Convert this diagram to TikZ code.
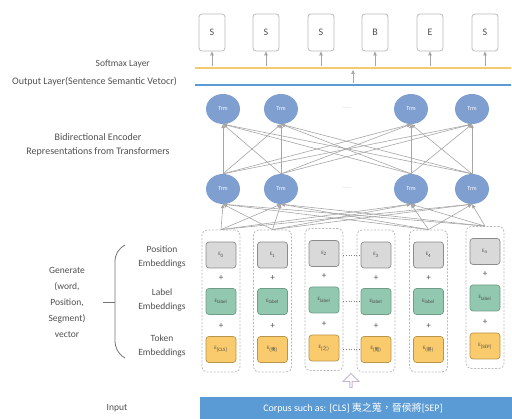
\documentclass[tikz,border=0pt]{standalone}
\usepackage{fontspec}
\setmainfont{Carlito}
\newfontfamily\cjk{Noto Sans CJK TC}
\usetikzlibrary{arrows.meta,shapes.arrows,shapes.geometric}
\definecolor{txt}{HTML}{505050}
\definecolor{ln}{HTML}{A6A6A6}
\definecolor{trm}{HTML}{7F9FD0}
\definecolor{gfill}{HTML}{D9D9D9}
\definecolor{gdraw}{HTML}{8C8C8C}
\definecolor{grfill}{HTML}{92C8B0}
\definecolor{grdraw}{HTML}{6E9E88}
\definecolor{yfill}{HTML}{F9CB6C}
\definecolor{ydraw}{HTML}{B89548}
\definecolor{bline}{HTML}{5B9BD5}
\definecolor{yline}{HTML}{F5C96E}
\definecolor{hollow}{HTML}{C9B4D8}
\tikzset{
  lbl/.style={text=txt, font=\fontsize{9.5}{11}\selectfont, inner sep=0pt},
  outbox/.style={draw=gray!55, rounded corners=3pt, minimum width=26pt, minimum height=37pt, line width=0.8pt, text=txt, font=\fontsize{10}{12}\selectfont, inner sep=0pt},
  trmnode/.style={ellipse, fill=trm, minimum width=34pt, minimum height=30pt, inner sep=0pt, text=white, font=\fontsize{6}{7}\selectfont},
  arr/.style={draw=ln, line width=0.6pt, -{Triangle[length=4pt,width=3.5pt]}},
  frame/.style={draw=gray!55, dash pattern=on 2pt off 1.5pt, rounded corners=5pt, line width=0.8pt, minimum width=38pt, minimum height=142pt, inner sep=0pt},
  ebox/.style={rounded corners=3pt, minimum width=30pt, minimum height=26pt, line width=0.7pt, inner sep=0pt, text=txt, font=\fontsize{5}{6}\selectfont},
  gbox/.style={ebox, fill=gfill, draw=gdraw},
  lbox/.style={ebox, fill=grfill, draw=grdraw},
  kbox/.style={ebox, fill=yfill, draw=ydraw},
  plus/.style={text=txt, font=\fontsize{9}{10}\selectfont, inner sep=0pt},
  dotc/.style={draw=gray, dotted, line width=0.6pt}
}
\begin{document}
\begin{tikzpicture}[x=1pt,y=-1pt]
\useasboundingbox (0,0) rectangle (512,419);
% output boxes
\foreach \i/\x/\s in {1/212/S,2/266/S,3/321/S,4/375/B,5/430/E,6/485/S}
  \node[outbox] (o\i) at (\x,32.5) {\s};
% layer lines
\coordinate (yl) at (195,68);
\coordinate (yr) at (511,68);
\coordinate (bl) at (195,85);
\coordinate (br) at (511,85);
\draw[yline, line width=1.3pt] (yl) -- (yr);
\draw[bline, line width=2.5pt] (bl) -- (br);
\foreach \i in {1,...,6}
  \draw[arr] (o\i.south |- yl) ++(0,-1.5) coordinate (a\i) (a\i) -- (o\i.south);
\coordinate (m0) at (353,83.5);
\coordinate (m1) at (353,70);
\draw[arr] (m0) -- (m1);
\node[lbl, anchor=east, font=\fontsize{9.5}{11}\selectfont] (sm) at (150,64) {Softmax Layer};
\node[lbl, anchor=east, font=\fontsize{10}{12}\selectfont] (ol) at (177,82) {Output Layer(Sentence Semantic Vetocr)};
\node[lbl, align=center, font=\fontsize{10}{12}\selectfont] (bert) at (98,145) {Bidirectional Encoder\\[2pt]Representations from Transformers};
% Trm nodes
\foreach \i/\x in {1/223,2/281,3/411,4/472} {
  \node[trmnode] (t\i) at (\x,109) {Trm};
  \node[trmnode] (b\i) at (\x,189) {Trm};
}
\node[text=gray!70, font=\fontsize{5}{6}\selectfont, inner sep=0pt] (d1) at (347,108) {......};
\node[text=gray!70, font=\fontsize{5}{6}\selectfont, inner sep=0pt] (d2) at (347,188) {......};
% embedding columns
\foreach \i/\x/\d/\p/\t in {1/221/0/0/{[CLS]},2/272.5/0/1/{({\cjk 夷})},3/324/-1.5/2/{({\cjk 之})},4/376/0/3/{({\cjk 蒐})},5/428.5/0/4/{({\cjk 將})},6/485/-3.5/n/{[SEP]}} {
  \node[frame] (c\i) at (\x,301+\d) {};
  \node[gbox] (p\i) at (\x,255+\d) {E\textsubscript{\p}};
  \node[plus] (q\i) at (\x,278+\d) {+};
  \node[lbox] (l\i) at (\x,301.5+\d) {E\textsubscript{label}};
  \node[plus] (r\i) at (\x,326+\d) {+};
  \node[kbox] (k\i) at (\x,349.5+\d) {E\textsubscript{\t}};
}
\draw[dotc] (p4.west -| c3.east) -- (p4.west);
\draw[dotc] (l4.west -| c3.east) -- (l4.west);
\draw[dotc] (k4.west -| c3.east) -- (k4.west);
% connections
\foreach \a in {1,...,4}
  \foreach \b in {1,...,4}
    \draw[arr] (b\a.north) -- (t\b.south);
\foreach \a in {1,2,5,6}
  \foreach \b in {1,...,4}
    \draw[arr] (c\a.north) -- (b\b.south);
% left labels
\node[lbl, align=center] (pe) at (162,257) {Position\\[3pt]Embeddings};
\node[lbl, align=center] (le) at (162,300) {Label\\[3pt]Embeddings};
\node[lbl, align=center] (te) at (162,346) {Token\\[3pt]Embeddings};
\draw[txt!80, line width=0.8pt] (125,245) to[out=210,in=90] (115,262) -- (115,340) to[out=-90,in=150] (125,358);
\coordinate (tk0) at (103,302);
\coordinate (tk1) at (115,302);
\draw[txt!80, line width=0.8pt] (tk0) -- (tk1);
\node[lbl, align=center, font=\fontsize{9.5}{16}\selectfont] (gen) at (67,302) {Generate\\(word,\\Position,\\Segment)\\vector};
% input
\node[lbl] (inp) at (117,408) {Input};
\node[fill=bline, minimum width=312pt, minimum height=22pt, inner sep=0pt] (bar) at (356,408) {};
\node[text=white, font=\fontsize{10}{12}\selectfont, inner sep=0pt] (bartxt) at (353,408) {Corpus such as: [CLS] {\cjk 夷之蒐，晉侯將}[SEP]};
\node[single arrow, draw=hollow, line width=0.8pt, shape border rotate=90, minimum height=14pt, minimum width=16pt, single arrow head extend=2.5pt, inner sep=0pt] (ha) at (351,381) {};
\end{tikzpicture}
\end{document}
